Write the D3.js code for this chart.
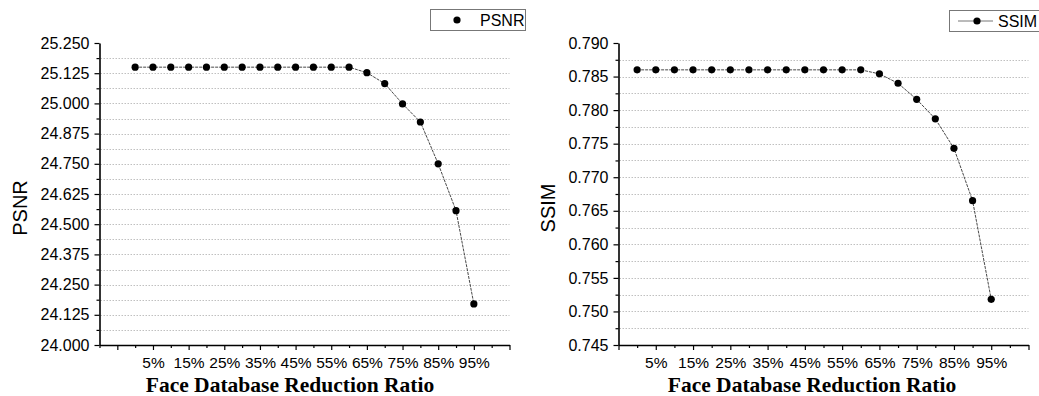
<!DOCTYPE html>
<html>
<head>
<meta charset="utf-8">
<script src="https://cdn.jsdelivr.net/npm/d3@7"></script>
<style>
  body { margin: 0; background: #fff; }
  svg { display: block; }
</style>
</head>
<body>
<script>
const ratios = [0, 5, 10, 15, 20, 25, 30, 35, 40, 45, 50, 55, 60, 65, 70, 75, 80, 85, 90, 95]
const psnr = [25.15, 25.15, 25.15, 25.15, 25.15, 25.15, 25.15, 25.15, 25.15, 25.15, 25.15, 25.15, 25.15,
  25.127, 25.082, 24.998, 24.923, 24.750, 24.556, 24.170]
const ssim = [0.786, 0.786, 0.786, 0.786, 0.786, 0.786, 0.786, 0.786, 0.786, 0.786, 0.786, 0.786, 0.786,
  0.7854, 0.7840, 0.7816, 0.7787, 0.7743, 0.7665, 0.7518]
const psnrTicks = [24.000, 24.125, 24.250, 24.375, 24.500, 24.625, 24.750, 24.875, 25.000, 25.125, 25.250]
const ssimTicks = [0.745, 0.750, 0.755, 0.760, 0.765, 0.770, 0.775, 0.780, 0.785, 0.790]
const xLabels = [5, 15, 25, 35, 45, 55, 65, 75, 85, 95]

const width = 1039
const height = 396

const svg = d3.select("body").append("svg")
  .attr("width", width)
  .attr("height", height)

function drawPanel({ values, yTicks, yFormat, xDomain, left, right, name, title, titleX, legend }) {
  const top = 43, bottom = 345
  const x = d3.scaleLinear().domain(xDomain).range([left, right])
  const y = d3.scaleLinear().domain([yTicks[0], yTicks[yTicks.length - 1]]).range([bottom, top])

  const step = yTicks[1] - yTicks[0]
  const yMinor = yTicks.slice(0, -1).map(t => t + step / 2)

  const xMajor = d3.range(xDomain[0] % 10 === 0 ? xDomain[0] + 5 : xDomain[0], xDomain[1] + 1, 10)
  const xMinor = d3.range(Math.ceil(xDomain[0] / 10) * 10, xDomain[1], 10)

  const g = svg.append("g")

  // dotted grid at every major and minor y tick
  g.append("g")
    .selectAll("line")
    .data(yTicks.slice(1, -1).concat(yMinor))
    .join("line")
    .attr("x1", left + 1)
    .attr("x2", right)
    .attr("y1", d => Math.round(y(d)) + 0.5)
    .attr("y2", d => Math.round(y(d)) + 0.5)
    .attr("stroke", "#b0b0b0")
    .attr("stroke-width", 0.8)
    .attr("stroke-dasharray", "1.5,1.5")

  // y axis
  const yAxis = g.append("g")
    .attr("transform", `translate(${left},0)`)
    .call(d3.axisLeft(y).tickValues(yTicks).tickFormat(yFormat).tickSize(5).tickPadding(5).tickSizeOuter(0))
  g.append("g")
    .attr("transform", `translate(${left},0)`)
    .call(d3.axisLeft(y).tickValues(yMinor).tickFormat("").tickSize(3).tickSizeOuter(0))
    .select(".domain").remove()

  // x axis
  const xAxis = g.append("g")
    .attr("transform", `translate(0,${bottom})`)
    .call(d3.axisBottom(x).tickValues(xMajor)
      .tickFormat(d => xLabels.includes(d) ? d + "%" : "")
      .tickSize(5).tickPadding(7).tickSizeOuter(0))
  g.append("g")
    .attr("transform", `translate(0,${bottom})`)
    .call(d3.axisBottom(x).tickValues(xMinor).tickFormat("").tickSize(3).tickSizeOuter(0))
    .select(".domain").remove()

  g.selectAll(".domain").attr("stroke", "#000").attr("stroke-width", 1.6)
  g.selectAll(".tick line").attr("stroke", "#000").attr("stroke-width", 1.2)
  yAxis.selectAll("text").attr("font-family", "'Liberation Sans', Arial, sans-serif").attr("font-size", 16).attr("fill", "#000")
  xAxis.selectAll("text").attr("font-family", "'Liberation Sans', Arial, sans-serif").attr("font-size", 15.5).attr("fill", "#000")

  // series line + markers
  const pts = ratios.map((r, i) => [r, values[i]])
  g.append("path")
    .datum(pts)
    .attr("fill", "none")
    .attr("stroke", "#333")
    .attr("stroke-width", 0.9)
    .attr("stroke-dasharray", "3,1")
    .attr("d", d3.line().x(d => x(d[0])).y(d => y(d[1])))

  g.append("g")
    .selectAll("circle")
    .data(pts)
    .join("circle")
    .attr("cx", d => x(d[0]))
    .attr("cy", d => y(d[1]))
    .attr("r", 3.6)
    .attr("fill", "#000")

  // axis titles
  g.append("text")
    .attr("transform", `translate(${title.x},208) rotate(-90)`)
    .attr("text-anchor", "middle")
    .attr("font-family", "'Liberation Sans', Arial, sans-serif")
    .attr("font-size", 20)
    .text(name)

  g.append("text")
    .attr("x", titleX)
    .attr("y", 392)
    .attr("text-anchor", "middle")
    .attr("font-family", "'Liberation Serif', 'Times New Roman', serif")
    .attr("font-weight", "bold")
    .attr("font-size", 21.5)
    .text("Face Database Reduction Ratio")

  // legend
  const lg = g.append("g")
  lg.append("rect")
    .attr("x", legend.x + 0.5)
    .attr("y", legend.y + 0.5)
    .attr("width", legend.w)
    .attr("height", 21)
    .attr("fill", "#fff")
    .attr("stroke", "#777")
  if (legend.line) {
    lg.append("line")
      .attr("x1", legend.x + 9).attr("x2", legend.x + 44)
      .attr("y1", legend.y + 11).attr("y2", legend.y + 11)
      .attr("stroke", "#666").attr("stroke-width", 0.9)
  }
  lg.append("circle")
    .attr("cx", legend.dot)
    .attr("cy", legend.y + 11)
    .attr("r", 3.6)
    .attr("fill", "#000")
  lg.append("text")
    .attr("x", legend.text)
    .attr("y", legend.y + 17)
    .attr("font-family", "'Liberation Sans', Arial, sans-serif")
    .attr("font-size", 16)
    .text(name)
}

drawPanel({
  values: psnr,
  yTicks: psnrTicks,
  yFormat: d3.format(".3f"),
  xDomain: [-10, 105],
  left: 99.5,
  right: 509.5,
  name: "PSNR",
  title: { x: 27 },
  titleX: 290,
  legend: { x: 430, y: 9, w: 95, dot: 457, text: 480, line: false }
})

drawPanel({
  values: ssim,
  yTicks: ssimTicks,
  yFormat: d3.format(".3f"),
  xDomain: [-5, 105],
  left: 618.5,
  right: 1028.5,
  name: "SSIM",
  title: { x: 555 },
  titleX: 812,
  legend: { x: 949, y: 10, w: 110, dot: 977, text: 998, line: true }
})
</script>
</body>
</html>
